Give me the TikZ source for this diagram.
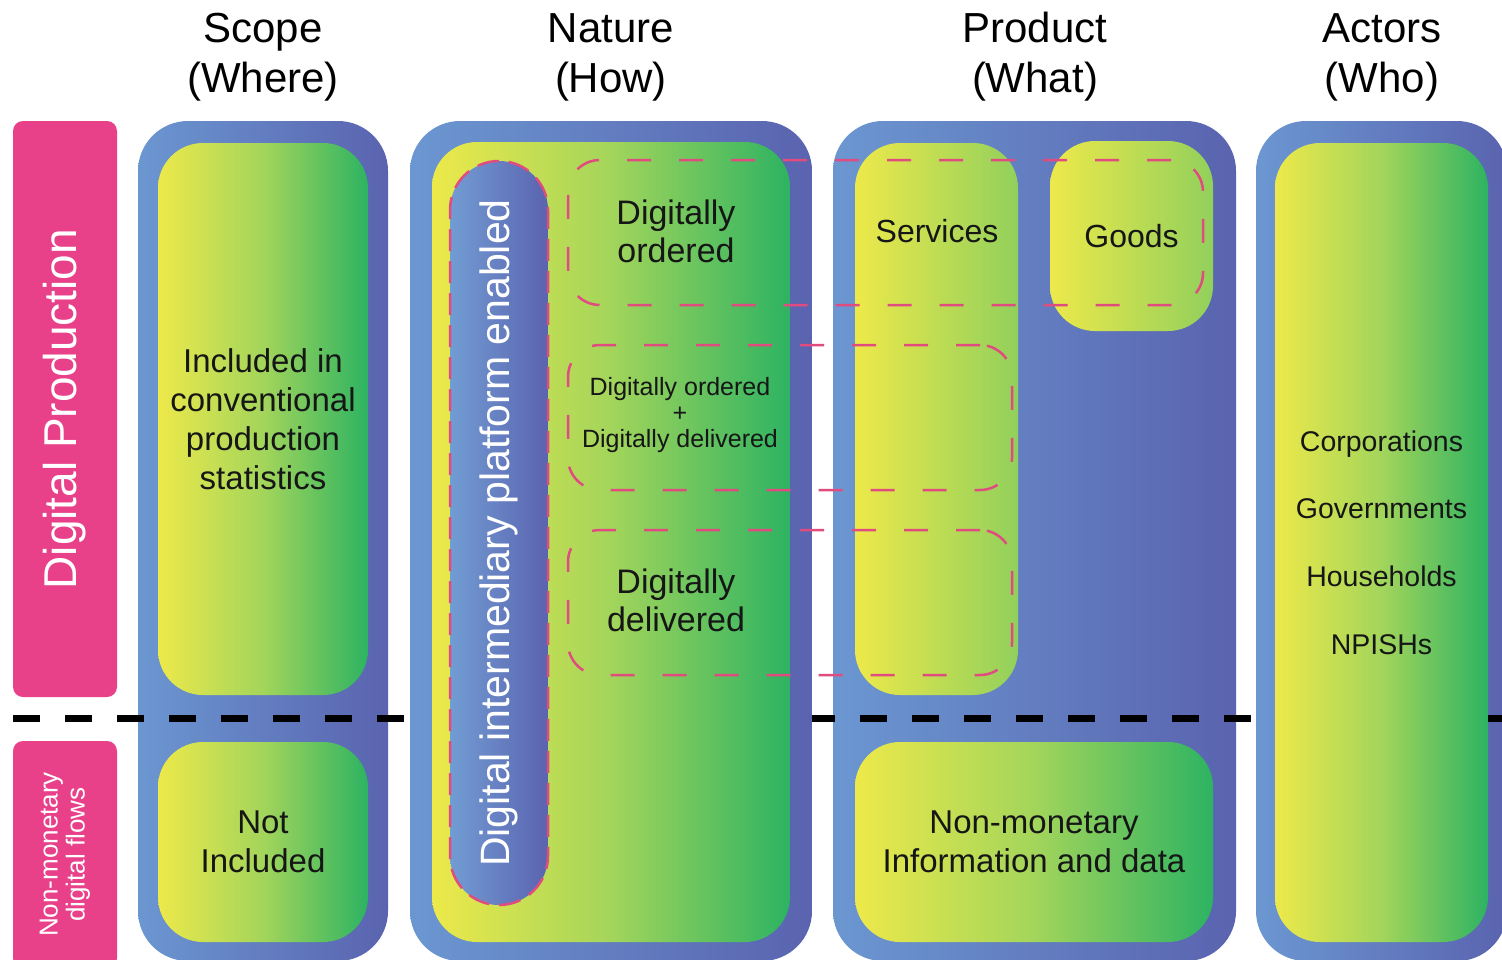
\documentclass[tikz,border=0pt]{standalone}
\usepackage{fontspec}
\setmainfont{Liberation Sans}
\usepackage{graphicx}
\usepackage{tikz}
\usetikzlibrary{positioning}

\definecolor{bluelt}{HTML}{6B97D1}
\definecolor{bluedk}{HTML}{5A63AF}
\definecolor{yel}{HTML}{EDE94A}
\definecolor{lime}{HTML}{A3D55B}
\definecolor{grn}{HTML}{2DB362}
\definecolor{pinkbar}{HTML}{E8418A}
\definecolor{pinkdash}{HTML}{E04B80}
\definecolor{ink}{HTML}{161616}

\begin{document}
\begin{tikzpicture}[
          x=1pt, y=-1pt,
          outerbox/.style={rectangle, rounded corners=50pt, inner sep=0pt,
            left color=bluelt, right color=bluedk},
          innerbox/.style={rectangle, rounded corners=45pt, inner sep=0pt,
            text=ink, align=center, left color=yel, right color=grn, middle color=lime},
          halfbox/.style={rectangle, rounded corners=45pt, inner sep=0pt,
            text=ink, align=center, left color=yel, right color=lime!85!grn},
          labelbar/.style={rectangle, rounded corners=10pt, inner sep=0pt,
            fill=pinkbar, text=white, align=center, rotate=90},
          pillbox/.style={rectangle, rounded corners=49pt, inner sep=0pt,
            left color=bluelt!95!white, right color=bluedk, text=white,
            draw=pinkdash, line width=2.5pt, dash pattern=on 22pt off 10pt},
          dashbox/.style={rectangle, rounded corners=32pt, inner sep=0pt,
            draw=pinkdash, line width=2.5pt, dash pattern=on 24pt off 28pt},
          sepline/.style={line width=7pt, dash pattern=on 27pt off 25pt},
          header/.style={align=center, font=\fontsize{42}{50}\selectfont},
          body/.style={align=center, text=ink}
        ]
        \useasboundingbox (0,0) rectangle (1502,959);

        \node [labelbar, minimum width=576pt, minimum height=104pt,
          font=\fontsize{46}{50}\selectfont] (prodbar) at (65,409) {Digital Production};
        \node [labelbar, minimum width=227pt, minimum height=104pt,
          font=\fontsize{26}{27}\selectfont] (flowbar) at (65,854.5) {Non-monetary\\digital flows};

        \node [outerbox, minimum width=250pt, minimum height=840pt] (scopeout) at (263,541) {};
        \node [innerbox, minimum width=210pt, minimum height=552pt,
          font=\fontsize{33}{39}\selectfont] (scopetop) at (263,419)
          {Included in\\conventional\\production\\statistics};
        \node [innerbox, minimum width=210pt, minimum height=200pt,
          font=\fontsize{33}{39}\selectfont] (scopebot) at (263,842) {Not\\Included};

        \node [outerbox, minimum width=403pt, minimum height=840pt] (prodout) at (1034.5,541) {};
        \node [halfbox, minimum width=163pt, minimum height=552pt] (services) at (936.5,419) {};
        \node [halfbox, minimum width=163pt, minimum height=190pt,
          font=\fontsize{32}{38}\selectfont] (goods) at (1131.5,236) {Goods};
        \node [innerbox, minimum width=358pt, minimum height=200pt,
          font=\fontsize{33}{39}\selectfont] (nonmon) at (1034,842)
          {Non-monetary\\Information and data};

        \node [outerbox, minimum width=251pt, minimum height=840pt] (actout) at (1381.5,541) {};

        \node [outerbox, minimum width=402pt, minimum height=840pt] (natout) at (611,541) {};
        \node [innerbox, minimum width=358pt, minimum height=800pt] (natin) at (611,542) {};
        \node [pillbox, minimum width=98pt, minimum height=744pt,
          font=\fontsize{41}{44}\selectfont] (pill) at (499,533)
          {\rotatebox{90}{Digital intermediary platform enabled}};

        \node [innerbox, minimum width=213pt, minimum height=799pt,
          font=\fontsize{28.5}{67.7}\selectfont] (actin) at (1381.5,542.5)
          {Corporations\\Governments\\Households\\NPISHs};

        \coordinate (sepL) at (13,718);
        \coordinate (sepR) at (1502,718);
        \draw [sepline] (sepL) -- (natout.west |- sepL);
        \draw [sepline, dash phase=4pt] (natout.east |- sepL) -- (actin.west |- sepL);
        \draw [sepline] (actin.east |- sepL) -- (sepR);

        \node [dashbox, minimum width=635pt, minimum height=145pt] (ordbox) at (885.5,232.5) {};
        \node [dashbox, minimum width=444pt, minimum height=145pt] (bothbox) at (790,417.5) {};
        \node [dashbox, minimum width=444pt, minimum height=145pt] (delbox) at (790,602.5) {};

        \node [body, font=\fontsize{34}{38}\selectfont] (ordtxt) at (676,231) {Digitally\\ordered};
        \node [body, font=\fontsize{25}{26}\selectfont] (bothtxt) at (680,415)
          {Digitally ordered\\+\\Digitally delivered};
        \node [body, font=\fontsize{34}{38}\selectfont] (deltxt) at (676,600) {Digitally\\delivered};
        \node [body, font=\fontsize{32}{38}\selectfont] (servtxt) at (937,231) {Services};

        \node [header] (scopehd) at (263,57) {Scope\\(Where)};
        \node [header] (naturehd) at (611,57) {Nature\\(How)};
        \node [header] (producthd) at (1035,57) {Product\\(What)};
        \node [header] (actorshd) at (1382,57) {Actors\\(Who)};
        \end{tikzpicture}
\end{document}
